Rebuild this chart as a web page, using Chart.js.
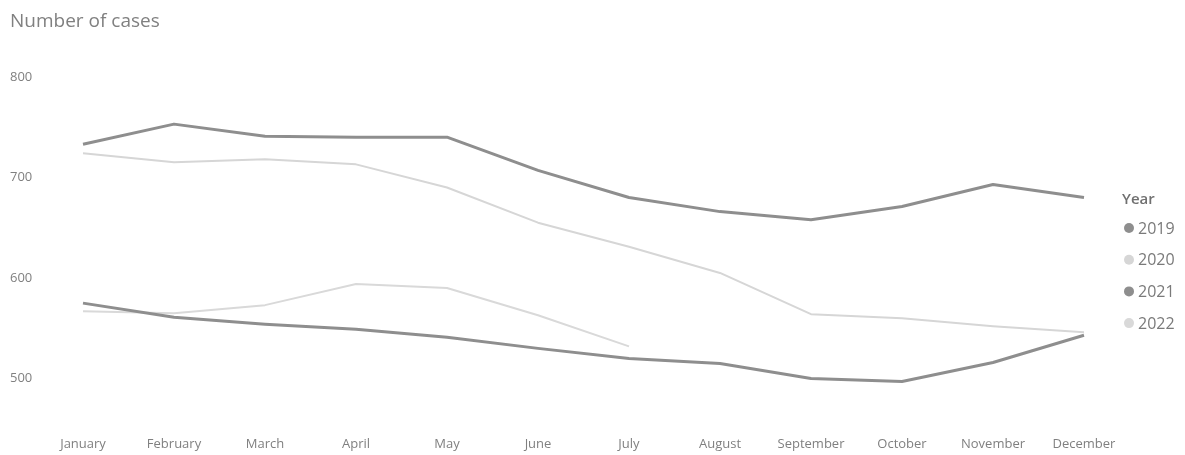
<!DOCTYPE html>
<html>
<head>
<meta charset="utf-8">
<script src="https://cdn.jsdelivr.net/npm/chart.js@4/dist/chart.umd.min.js"></script>
<style>
  html, body { margin: 0; padding: 0; background: #ffffff; }
  #wrap { position: relative; width: 1185px; height: 455px; }
</style>
</head>
<body>
<div id="wrap"><canvas id="chart" width="1185" height="455"></canvas></div>
<script>
// Monthly number of cases per year
const months = ['January', 'February', 'March', 'April', 'May', 'June',
                'July', 'August', 'September', 'October', 'November', 'December'];
const years = ['2019', '2020', '2021', '2022'];
const cases2019 = [733, 753, 741, 740, 740, 707, 680, 666, 658, 671, 693, 680];
const cases2020 = [724, 715, 718, 713, 690, 655, 631, 605, 564, 560, 552, 546];
const cases2021 = [575, 561, 554, 549, 541, 530, 520, 515, 500, 497, 516, 543];
const cases2022 = [567, 565, 573, 594, 590, 563, 532, null, null, null, null, null];
const yTicks = [500, 600, 700, 800];

const seriesColors = ['#8e8e8e', '#d6d6d6', '#8e8e8e', '#d9d9d9'];
const seriesWidths = [3, 2, 3, 2];
const seriesData = [cases2019, cases2020, cases2021, cases2022];

const FONT = "'Open Sans', 'Noto Sans', sans-serif";

// Legend on the right: "Year" heading and a dot per series
const yearLegend = {
  id: 'yearLegend',
  afterDraw(chart) {
    const ctx = chart.ctx;
    ctx.save();
    ctx.textBaseline = 'middle';
    ctx.textAlign = 'left';
    ctx.fillStyle = '#707070';
    ctx.font = "600 15px " + FONT;
    ctx.fillText('Year', 1122, 200);
    chart.data.datasets.forEach((ds, i) => {
      const y = 228 + i * 31.7;
      ctx.beginPath();
      ctx.arc(1129, y, 5, 0, Math.PI * 2);
      ctx.fillStyle = ds.borderColor;
      ctx.fill();
      ctx.fillStyle = '#7a7a7a';
      ctx.font = "16px " + FONT;
      ctx.fillText(ds.label, 1138, y + 1);
    });
    ctx.restore();
  }
};

new Chart(document.getElementById('chart'), {
  type: 'line',
  data: {
    labels: months,
    datasets: years.map((y, i) => ({
      label: y,
      data: seriesData[i],
      borderColor: seriesColors[i],
      backgroundColor: seriesColors[i],
      borderWidth: seriesWidths[i],
      pointRadius: 0,
      tension: 0,
      spanGaps: false,
      borderJoinStyle: 'round',
      order: i % 2 === 0 ? 0 : 1
    }))
  },
  options: {
    responsive: false,
    animation: false,
    layout: { padding: { left: 10, right: 101, top: 0, bottom: 0 } },
    plugins: {
      legend: { display: false },
      tooltip: { enabled: false },
      title: {
        display: true,
        text: 'Number of cases',
        align: 'start',
        color: '#808080',
        font: { family: FONT, size: 19, weight: 'normal' },
        padding: { top: 10, bottom: 34 }
      }
    },
    scales: {
      x: {
        offset: false,
        grid: { display: false, drawTicks: false },
        border: { display: false },
        ticks: {
          autoSkip: false, maxRotation: 0, minRotation: 0,
          padding: 48,
          color: '#808080',
          font: { family: FONT, size: 13 }
        },
        afterFit(scale) { scale.height = 66.4; }
      },
      y: {
        min: 490,
        max: 810,
        grid: { display: false, drawTicks: false },
        border: { display: false },
        afterBuildTicks(scale) { scale.ticks = yTicks.map(v => ({ value: v })); },
        ticks: {
          crossAlign: 'far',
          color: '#808080',
          font: { family: FONT, size: 13 }
        },
        afterFit(scale) { scale.width = 73; }
      }
    }
  },
  plugins: [yearLegend]
});
</script>
</body>
</html>
